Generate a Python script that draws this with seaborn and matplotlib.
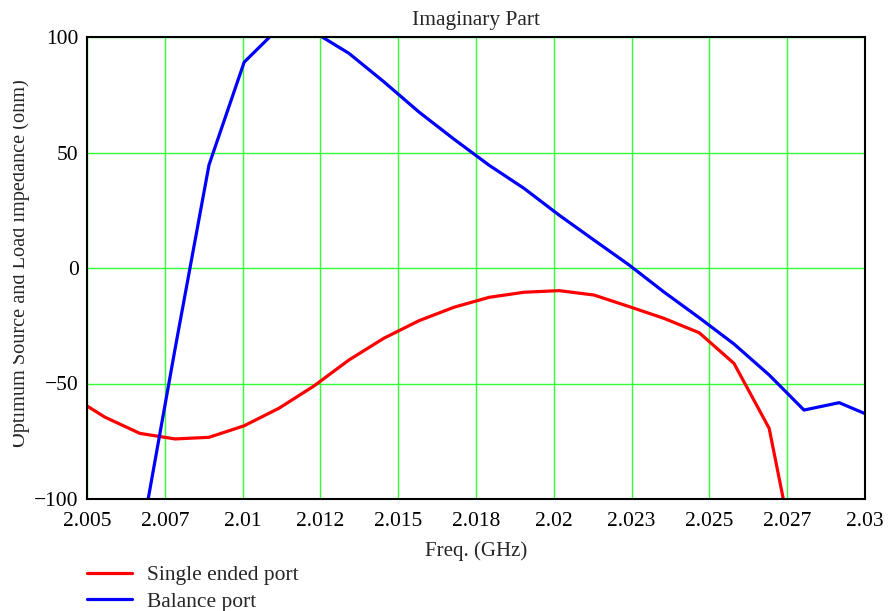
import numpy as np
import pandas as pd
import seaborn as sns
import matplotlib.pyplot as plt
from matplotlib.transforms import Bbox, TransformedBbox

# frequency points (GHz) shared by both curves
freq = [2.00445, 2.00558, 2.00670, 2.00783, 2.00892, 2.01005, 2.01117, 2.01229,
        2.01342, 2.01454, 2.01567, 2.01679, 2.01792, 2.01904, 2.02017, 2.02129,
        2.02242, 2.02354, 2.02467, 2.02579, 2.02692, 2.02804, 2.02917, 2.03029]

single_ended = [-55.1, -64.6, -71.6, -74.0, -73.3, -68.3, -60.7, -51.1,
                -39.8, -30.4, -22.8, -17.0, -12.7, -10.5, -9.8, -11.7,
                -16.7, -21.8, -28.0, -41.3, -69.4, -144.8, np.nan, np.nan]

balance = [np.nan, np.nan, -120.0, -35.0, 44.6, 89.1, 104.0, 102.2,
           92.9, 80.6, 67.5, 55.8, 44.5, 34.5, 22.9, 12.1,
           1.3, -10.4, -21.5, -32.9, -46.3, -61.5, -58.3, -64.7]

series_names = ["Single ended port", "Balance port"]
series_colors = ["#ff0000", "#0000ff"]

xtick_pos = [2.005, 2.0075, 2.01, 2.0125, 2.015, 2.0175, 2.02, 2.0225, 2.025, 2.0275, 2.03]
xtick_labels = ["2.005", "2.007", "2.01", "2.012", "2.015", "2.018", "2.02",
                "2.023", "2.025", "2.027", "2.03"]
ytick_pos = [-100, -50, 0, 50, 100]
ytick_labels = ["\u2212100", "\u221250", "0", "50", "100"]

df = pd.DataFrame({
    "freq": freq * 2,
    "value": single_ended + balance,
    "series": [series_names[0]] * len(freq) + [series_names[1]] * len(freq),
})

sns.set_style("white")
plt.rcParams['font.family'] = ['Liberation Serif', 'DejaVu Serif']

fig = plt.figure(figsize=(8.91, 6.11), dpi=100)
ax = fig.add_axes([87 / 891, 1 - 499 / 611, 778 / 891, 462 / 611])

sns.lineplot(data=df, x="freq", y="value", hue="series", hue_order=series_names,
             palette=dict(zip(series_names, series_colors)), linewidth=2.3,
             sort=False, ax=ax)

ax.set_xlim(2.005, 2.03)
ax.set_ylim(-100, 100)
ax.set_xticks(xtick_pos)
ax.set_xticklabels(xtick_labels)
ax.set_yticks(ytick_pos)
ax.set_yticklabels(ytick_labels)
ax.tick_params(axis="both", length=0, labelsize=15.5, colors="black")
ax.tick_params(axis="x", pad=9)
ax.tick_params(axis="y", pad=6)
ax.grid(True, color="#33ff33", linewidth=1.0)
ax.set_axisbelow(True)
for sp in ax.spines.values():
    sp.set_color("black")
    sp.set_linewidth(1.5)

ax.set_title("Imaginary Part", fontsize=15.5, pad=8.5)
ax.set_xlabel("Freq. (GHz)", fontsize=15, labelpad=8)
ylab = ax.set_ylabel("Optimum Source and Load impedance (ohm)", fontsize=14.6)
ax.yaxis.set_label_coords(-0.073, 0.51)
# the original picture is cut off a little on its left edge
ylab.set_clip_box(TransformedBbox(Bbox([[13 / 891, 0], [1, 1]]), fig.transFigure))
ylab.set_clip_on(True)

ax.legend(loc="upper left", bbox_to_anchor=(-0.011, -0.125), frameon=False,
          fontsize=15.5, handlelength=2.1, handletextpad=0.7, labelspacing=0.3,
          borderaxespad=0)

fig.savefig("out.png", dpi=100)
